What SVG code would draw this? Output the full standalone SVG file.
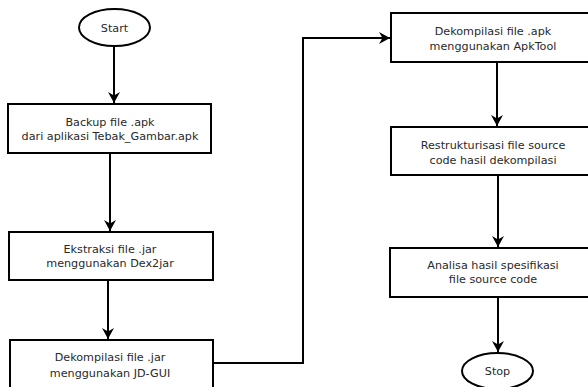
<svg xmlns="http://www.w3.org/2000/svg" width="588" height="387" viewBox="0 0 588 387">
<style>
.box{fill:#fff;stroke:#000;stroke-width:2}
.t{font-family:"DejaVu Sans",sans-serif;font-size:11.2px;fill:#2a2a2a;text-anchor:middle}
.c{fill:none;stroke:#000;stroke-width:2}
</style>
<defs>
<marker id="ah" markerWidth="14" markerHeight="14" refX="11" refY="7" orient="auto" markerUnits="userSpaceOnUse">
<path d="M0,1 L11,7 L0,13 L3.5,7 Z" fill="#000"/>
</marker>
</defs>
<rect width="588" height="387" fill="#fff"/>
<g id="connectors">
<line class="c" x1="114" y1="46" x2="114" y2="103" marker-end="url(#ah)"/>
<line class="c" x1="110" y1="153" x2="110" y2="231" marker-end="url(#ah)"/>
<line class="c" x1="108" y1="280" x2="108" y2="339" marker-end="url(#ah)"/>
<polyline class="c" points="213,363 303,363 303,38 390,38" marker-end="url(#ah)"/>
<line class="c" x1="497" y1="63" x2="497" y2="126" marker-end="url(#ah)"/>
<line class="c" x1="498" y1="175" x2="498" y2="247" marker-end="url(#ah)"/>
<line class="c" x1="498" y1="297" x2="498" y2="352" marker-end="url(#ah)"/>
</g>
<g id="start">
<ellipse class="box" cx="114.5" cy="27.5" rx="35.5" ry="18.5"/>
<text class="t" x="114.5" y="31.5">Start</text>
</g>
<g id="backup">
<rect class="box" x="8" y="104" width="203" height="49"/>
<text class="t" x="110" y="126">Backup file .apk</text>
<text class="t" x="110" y="140">dari aplikasi Tebak_Gambar.apk</text>
</g>
<g id="ekstraksi">
<rect class="box" x="9" y="232" width="204" height="48"/>
<text class="t" x="110" y="253">Ekstraksi file .jar</text>
<text class="t" x="110" y="267">menggunakan Dex2jar</text>
</g>
<g id="dekompilasi-jar">
<rect class="box" x="10" y="340" width="203" height="60"/>
<text class="t" x="110" y="361">Dekompilasi file .jar</text>
<text class="t" x="110" y="377">menggunakan JD-GUI</text>
</g>
<g id="dekompilasi-apk">
<rect class="box" x="391" y="13" width="210" height="49"/>
<text class="t" x="493" y="35">Dekompilasi file .apk</text>
<text class="t" x="493" y="50">menggunakan ApkTool</text>
</g>
<g id="restrukturisasi">
<rect class="box" x="391" y="127" width="210" height="48"/>
<text class="t" x="493" y="149">Restrukturisasi file source</text>
<text class="t" x="493" y="164">code hasil dekompilasi</text>
</g>
<g id="analisa">
<rect class="box" x="390" y="248" width="210" height="49"/>
<text class="t" x="493" y="269">Analisa hasil spesifikasi</text>
<text class="t" x="493" y="283">file source code</text>
</g>
<g id="stop">
<ellipse class="box" cx="497.5" cy="371" rx="35.5" ry="18"/>
<text class="t" x="497.5" y="375">Stop</text>
</g>
</svg>
